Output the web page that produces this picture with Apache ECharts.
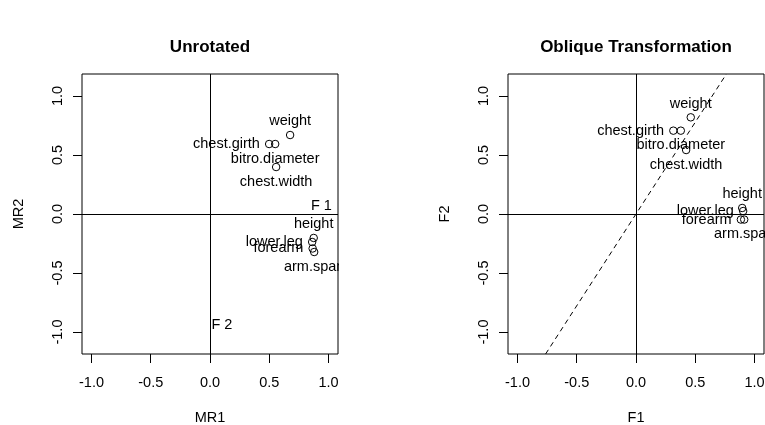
<!DOCTYPE html>
<html><head><meta charset="utf-8">
<script src="https://cdn.jsdelivr.net/npm/echarts@6/dist/echarts.min.js"></script>
<style>html,body{margin:0;padding:0;background:#fff}#c{width:765px;height:425px}</style>
</head><body><div id="c"></div>
<script>
// ---- data ----
const variables = ['height','arm.span','forearm','lower.leg','weight','bitro.diameter','chest.girth','chest.width'];
const unrotatedMR1 = [0.875, 0.879, 0.866, 0.862, 0.676, 0.550, 0.499, 0.558];
const unrotatedMR2 = [-0.203, -0.322, -0.292, -0.237, 0.669, 0.593, 0.593, 0.398];
const obliqueF1 = [0.896, 0.913, 0.885, 0.904, 0.462, 0.378, 0.315, 0.423];
const obliqueF2 = [0.051, -0.047, -0.047, 0.025, 0.819, 0.706, 0.706, 0.542];
const tickValues = [-1.0, -0.5, 0.0, 0.5, 1.0];
const tickLabels = ['-1.0', '-0.5', '0.0', '0.5', '1.0'];
const factorAxisNames = ['F 1', 'F 2'];
const factorAxisX = [0.94, 0.10];
const factorAxisY = [0.07, -0.94];
const obliqueSlope = 1.555;
const panelTitles = ['Unrotated', 'Oblique Transformation'];
const xNames = ['MR1', 'F1'];
const yNames = ['MR2', 'F2'];

// ---- style / layout ----
const FONT = "'Liberation Sans', Arial, Helvetica, sans-serif";
const FS = 14.5;
const X_LIM = [-1.08, 1.08];
const Y_LIM = [-1.186, 1.186];
const labelPlacement = {
  'height': 'top', 'arm.span': 'bottom', 'forearm': 'left', 'lower.leg': 'left',
  'weight': 'top', 'bitro.diameter': 'bottom', 'chest.girth': 'left', 'chest.width': 'bottom'
};
const labelDist = { top: 2, bottom: 3, left: 5, right: 5 };
const grids = [
  { left: 82, top: 74, width: 256, height: 280, outerBoundsMode: 'none', show: true, borderColor: '#000', borderWidth: 1, backgroundColor: 'transparent' },
  { left: 508, top: 74, width: 256, height: 280, outerBoundsMode: 'none', show: true, borderColor: '#000', borderWidth: 1, backgroundColor: 'transparent' }
];
const tickFmt = v => { const i = tickValues.findIndex(t => Math.abs(t - v) < 1e-9); return i >= 0 ? tickLabels[i] : ''; };

function xAxis(i) {
  return {
    type: 'value', gridIndex: i, min: X_LIM[0], max: X_LIM[1], position: 'bottom',
    name: xNames[i], nameLocation: 'middle', nameGap: 56,
    nameTextStyle: { fontFamily: FONT, fontSize: FS, color: '#000' },
    axisLine: { show: false, onZero: false },
    axisTick: { show: true, inside: false, length: 9, customValues: tickValues, lineStyle: { color: '#000', width: 1 } },
    axisLabel: { show: true, customValues: tickValues, formatter: tickFmt, margin: 21, fontFamily: FONT, fontSize: FS, color: '#000' },
    splitLine: { show: false }
  };
}
function yAxis(i) {
  return {
    type: 'value', gridIndex: i, min: Y_LIM[0], max: Y_LIM[1], position: 'left',
    name: yNames[i], nameLocation: 'middle', nameGap: 56, nameRotate: 90,
    nameTextStyle: { fontFamily: FONT, fontSize: FS, color: '#000' },
    axisLine: { show: false, onZero: false },
    axisTick: { show: true, inside: false, length: 9, customValues: tickValues, lineStyle: { color: '#000', width: 1 } },
    axisLabel: { show: true, rotate: 90, customValues: tickValues, formatter: tickFmt, margin: 17, fontFamily: FONT, fontSize: FS, color: '#000' },
    splitLine: { show: false }
  };
}
function pointData(xs, ys) {
  return variables.map((v, i) => {
    const pos = labelPlacement[v];
    return { name: v, value: [xs[i], ys[i]], label: { position: pos, distance: labelDist[pos], color: '#000' } };
  });
}
const zeroLines = {
  silent: true, symbol: ['none', 'none'], label: { show: false },
  lineStyle: { color: '#000', width: 1, type: 'solid' },
  data: [{ xAxis: 0 }, { yAxis: 0 }], animation: false
};
function loadingSeries(i, xs, ys) {
  return {
    type: 'scatter', xAxisIndex: i, yAxisIndex: i, symbol: 'circle', symbolSize: 7.5,
    itemStyle: { color: 'transparent', borderColor: '#000', borderWidth: 1, opacity: 1 },
    label: { show: true, formatter: p => p.name, fontFamily: FONT, fontSize: FS, color: '#000', textBorderWidth: 0, opacity: 1 },
    emphasis: { disabled: true },
    labelLayout: { hideOverlap: false },
    data: pointData(xs, ys), markLine: zeroLines, z: 3
  };
}

const option = {
  animation: false,
  backgroundColor: '#fff',
  grid: grids,
  xAxis: [xAxis(0), xAxis(1)],
  yAxis: [yAxis(0), yAxis(1)],
  series: [
    loadingSeries(0, unrotatedMR1, unrotatedMR2),
    {
      type: 'scatter', xAxisIndex: 0, yAxisIndex: 0, symbolSize: 0,
      itemStyle: { color: '#000', opacity: 1 },
      emphasis: { disabled: true },
      label: { show: true, position: 'inside', formatter: p => p.name, fontFamily: FONT, fontSize: FS, color: '#000', textBorderWidth: 0, textBorderColor: 'transparent', opacity: 1 },
      data: factorAxisNames.map((n, i) => ({ name: n, value: [factorAxisX[i], factorAxisY[i]] }))
    },
    loadingSeries(1, obliqueF1, obliqueF2),
    {
      type: 'line', xAxisIndex: 1, yAxisIndex: 1, symbol: 'none', silent: true, clip: true,
      lineStyle: { color: '#000', width: 1, type: [5, 4] },
      data: [[Y_LIM[0] / obliqueSlope, Y_LIM[0]], [Y_LIM[1] / obliqueSlope, Y_LIM[1]]], z: 2
    }
  ],
  graphic: [
    { type: 'rect', z: 100, silent: true, shape: { x: 339, y: 60, width: 80, height: 300 }, style: { fill: '#fff' } },
    { type: 'text', z: 101, x: 210, y: 47, style: { text: panelTitles[0], align: 'center', verticalAlign: 'middle', fontFamily: FONT, fontSize: 17, fontWeight: 'bold', fill: '#000' } },
    { type: 'text', z: 101, x: 636, y: 47, style: { text: panelTitles[1], align: 'center', verticalAlign: 'middle', fontFamily: FONT, fontSize: 17, fontWeight: 'bold', fill: '#000' } }
  ]
};
const chart = echarts.init(document.getElementById('c'), null, { renderer: 'canvas' });
chart.setOption(option);
</script>
</body></html>
